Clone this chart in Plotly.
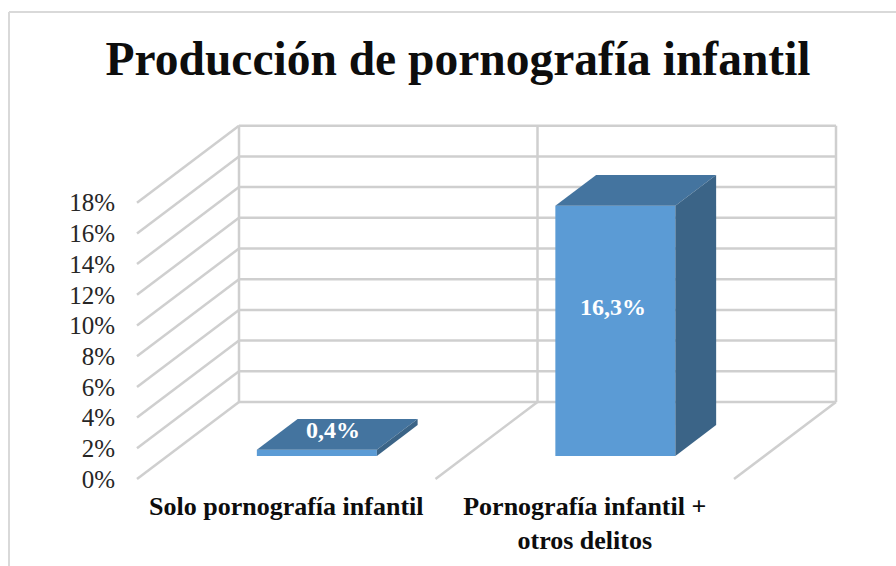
import plotly.graph_objects as go

title = "Producción de pornografía infantil"
categories = ["Solo pornografía infantil", "Pornografía infantil +<br>otros delitos"]
values = [0.4, 16.3]
value_labels = ["0,4%", "16,3%"]
ticks = [0, 2, 4, 6, 8, 10, 12, 14, 16, 18]
tick_labels = [f"{t}%" for t in ticks]

W, H = 896, 566
X0, Y0 = 137, 479            # pixel of the front floor corner
L, R, T, B = 130, 842, 120, 483
CAT_PX, PCT_PX = 298.5, 15.35
DX, DY = 102 / CAT_PX, 77 / PCT_PX  # full floor depth in data units
D0, D1 = 0.30, 0.70                 # bar front/back as fraction of depth
BAR_W = 120 / CAT_PX
FONT = "Liberation Serif"
GRID = "#cfcfcf"
FRONT, TOP, SIDE = "#5b9bd5", "#44749f", "#3b6487"
x_range = [-0.5 - (X0 - L) / CAT_PX, -0.5 + (R - X0) / CAT_PX]
y_range = [-(B - Y0) / PCT_PX, (Y0 - T) / PCT_PX]


def proj(cat, val, d):
    return cat + d * DX, val + d * DY


def px_x(p):
    return (p - L) / (R - L)


def px_y(p):
    return (B - p) / (B - T)


fig = go.Figure()
shapes = []


def grid(x0, y0, x1, y1):
    shapes.append(dict(type="line", xref="x", yref="y", x0=x0, y0=y0, x1=x1, y1=y1,
                       layer="below", line=dict(color=GRID, width=2.5)))


n = len(categories)
for t in ticks:
    x0, y0 = proj(-0.5, t, 0)
    x1, y1 = proj(-0.5, t, 1)
    grid(x0, y0, x1, y1)
    grid(x1, y1, proj(n - 0.5, t, 1)[0], y1)
for k in range(n + 1):
    c = k - 0.5
    xb, yb = proj(c, 0, 1)
    grid(xb, yb, xb, proj(c, ticks[-1], 1)[1])
    if k > 0:
        x0, y0 = proj(c, 0, 0)
        grid(x0, y0, xb, yb)

# outer chart frame
shapes.append(dict(type="line", xref="paper", yref="paper", x0=px_x(9), x1=px_x(W), y0=px_y(12), y1=px_y(12),
                   layer="below", line=dict(color="#d9d9d9", width=2)))
shapes.append(dict(type="line", xref="paper", yref="paper", x0=px_x(9), x1=px_x(9), y0=px_y(12), y1=px_y(H),
                   layer="below", line=dict(color="#d9d9d9", width=2)))

fig.add_trace(go.Bar(
    x=[proj(i, 0, D0)[0] for i in range(n)],
    y=values,
    base=[proj(0, 0, D0)[1]] * n,
    width=BAR_W,
    marker=dict(color=FRONT, line=dict(width=0)),
    hoverinfo="skip",
    showlegend=False,
))

for i, v in enumerate(values):
    a = [i - BAR_W / 2, i + BAR_W / 2]
    p = [proj(a[0], v, D0), proj(a[1], v, D0), proj(a[1], v, D1), proj(a[0], v, D1)]
    fig.add_trace(go.Scatter(x=[q[0] for q in p] + [p[0][0]], y=[q[1] for q in p] + [p[0][1]],
                             mode="lines", fill="toself", fillcolor=TOP, line=dict(width=0),
                             hoverinfo="skip", showlegend=False))
    s = [proj(a[1], 0, D0), proj(a[1], v, D0), proj(a[1], v, D1), proj(a[1], 0, D1)]
    fig.add_trace(go.Scatter(x=[q[0] for q in s] + [s[0][0]], y=[q[1] for q in s] + [s[0][1]],
                             mode="lines", fill="toself", fillcolor=SIDE, line=dict(width=0),
                             hoverinfo="skip", showlegend=False))

label_shift = [(16, 23), (-2, 24)]
annotations = []
for i, v in enumerate(values):
    ax, ay = proj(i, v / 2, D0)
    annotations.append(dict(x=ax, y=ay, xref="x", yref="y", text=f"<b>{value_labels[i]}</b>", showarrow=False,
                            xshift=label_shift[i][0], yshift=label_shift[i][1],
                            font=dict(family=FONT, size=24, color="white")))

fig.update_layout(
    width=W, height=H, margin=dict(l=L, r=W - R, t=T, b=H - B, pad=0, autoexpand=False),
    paper_bgcolor="white", plot_bgcolor="rgba(0,0,0,0)",
    title=dict(text=f"<b>{title}</b>", x=458 / W, xanchor="center", y=1 - 58 / H, yanchor="middle",
               font=dict(family=FONT, size=47.5, color="#0d0d0d")),
    xaxis=dict(range=x_range, tickmode="array", tickvals=list(range(n)), automargin=False,
               ticktext=[f"<b>{c}</b>" for c in categories],
               tickfont=dict(family=FONT, size=26, color="#0d0d0d"),
               ticks="outside", ticklen=0, tickcolor="rgba(0,0,0,0)",
               showgrid=False, zeroline=False, showline=False, tickangle=0),
    yaxis=dict(range=y_range, tickmode="array", tickvals=ticks, ticktext=tick_labels, automargin=False,
               tickfont=dict(family=FONT, size=25, color="#262626"),
               ticks="outside", ticklen=9, tickcolor="rgba(0,0,0,0)",
               showgrid=False, zeroline=False, showline=False),
    shapes=shapes, annotations=annotations, barmode="overlay", showlegend=False,
)
fig.write_html("out.html", config=dict(displayModeBar=False),
               post_script="document.body.style.margin='0';document.documentElement.style.overflow='hidden';")
